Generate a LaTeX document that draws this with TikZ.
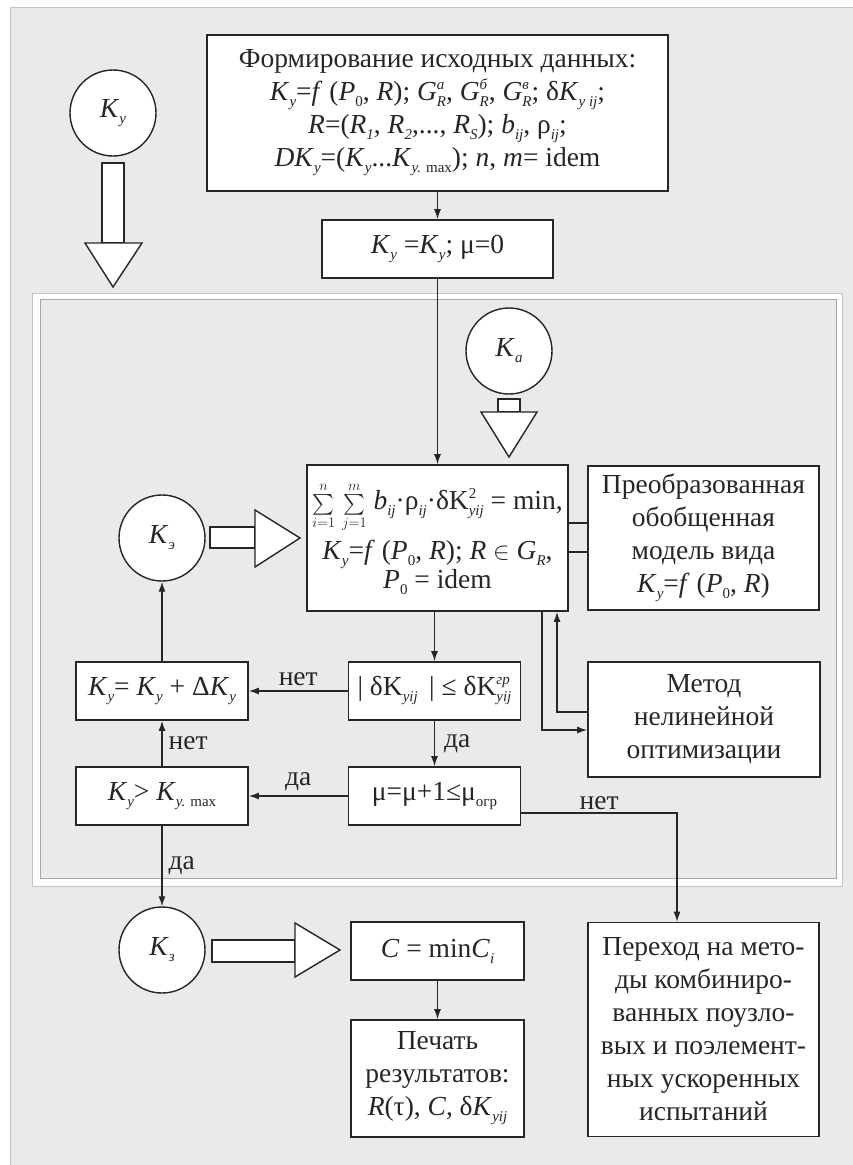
\documentclass[tikz,border=0pt]{standalone}
\usepackage{amsmath}
\usepackage{fontspec}
\setmainfont{Liberation Serif}
\usetikzlibrary{arrows.meta,calc}
\definecolor{bg}{HTML}{E9EBEA}
\definecolor{ink}{HTML}{262626}
\definecolor{frameline}{HTML}{C4C6C5}
\newcommand\I[1]{\textit{#1}}
\newcommand\smallidx[1]{{\fontsize{15}{15}\selectfont #1}}
\newcommand\lo[1]{\raisebox{-6pt}{\smallidx{#1}}}
\newcommand\hl[2]{\rlap{\raisebox{11pt}{\smallidx{#1}}}\raisebox{-6pt}{\smallidx{#2}}}
\tikzset{
  box/.style={draw=ink, line width=1.6pt, fill=white, align=center, inner sep=2pt, text=ink},
  circ/.style={circle, draw=ink, line width=1.4pt, fill=white, minimum size=86pt, inner sep=0pt, text=ink},
  conn/.style={draw=ink, line width=1.3pt, -{Latex[length=10pt,width=7pt]}},
  plain/.style={draw=ink, line width=1.3pt},
  hollow/.style={draw=ink, line width=1.4pt, fill=white, line join=miter},
  lab/.style={text=ink, inner sep=1pt},
}
\begin{document}
\begin{tikzpicture}[x=1pt,y=-1pt,every node/.style={font=\fontsize{27.5}{33}\selectfont}]
\useasboundingbox (0,0) rectangle (853,1165);
% backgrounds
\fill[white] (0,0) rectangle (853,1165);
\fill[bg] (10,7) rectangle (853,1165);
\draw[frameline, line width=0.8pt] (10,1165) -- (10,7) -- (853,7);
\fill[white] (32,293) rectangle (842,886);
\draw[frameline, line width=0.8pt] (32,293) rectangle (842,886);
\fill[bg] (40,299) rectangle (836,878);
\draw[gray!70, line width=1pt] (40,299) rectangle (836,878);

% nodes
\node[box, minimum width=461pt, minimum height=156pt] (top) at (437.5,113)
 {Формирование исходных данных:\\
  \I{K}\lo{\I{у}}=\I{f} (\I{P}\lo{0}, \I{R}); \I{G}\hl{\I{a}}{\I{R}}, \I{G}\hl{\I{б}}{\I{R}}, \I{G}\hl{\I{в}}{\I{R}}; δ\I{K}\lo{\I{у ij}};\\
  \I{R}=(\I{R}\lo{\I{1}}, \I{R}\lo{\I{2}},..., \I{R}\lo{\I{S}}); \I{b}\lo{\I{ij}}, ρ\lo{\I{ij}};\\
  \I{DK}\lo{\I{у}}=(\I{K}\lo{\I{у}}...\I{K}\lo{\I{у.} max}); \I{n}, \I{m}= idem};
\node[box, minimum width=231pt, minimum height=58pt] (init) at (437.5,249)
 {\I{K}\lo{\I{у}} =\I{K}\lo{\I{у}}; μ=0};
\node[box, minimum width=261pt, minimum height=146pt] (main) at (437.5,538)
 {{\fontsize{20}{20}\selectfont$\sum\limits_{i=1}^{n}\,\sum\limits_{j=1}^{m}$} \I{b}\lo{\I{ij}}·ρ\lo{\I{ij}}·δK\hl{2}{\I{уij}} = min,\\[6pt]
  \I{K}\lo{\I{у}}=\I{f} (\I{P}\lo{0}, \I{R}); \I{R} $\in$ \I{G}\lo{\I{R}},\\[-4pt]
  \I{P}\lo{0} = idem};
\node[box, minimum width=231pt, minimum height=144pt] (model) at (703.5,538)
 {Преобразованная\\обобщенная\\модель вида\\\I{K}\lo{\I{у}}=\I{f} (\I{P}\lo{0}, \I{R})};
\node[box, minimum width=172pt, minimum height=58pt] (delta) at (434.5,691)
 {| δK\lo{\I{уij}} \,| ≤ δK\hl{\I{гр}}{\I{уij}}};
\node[box, minimum width=172pt, minimum height=58pt] (inc) at (162,691)
 {\I{K}\lo{\I{у}}= \I{K}\lo{\I{у}} + Δ\I{K}\lo{\I{у}}};
\node[box, minimum width=172pt, minimum height=58pt] (mu) at (434.5,796)
 {μ=μ+1≤μ\lo{огр}};
\node[box, minimum width=172pt, minimum height=58pt] (cmp) at (162,796)
 {\I{K}\lo{\I{у}}> \I{K}\lo{\I{у.} max}};
\node[box, minimum width=232pt, minimum height=115pt] (metod) at (704,719.5)
 {Метод\\нелинейной\\оптимизации};
\node[box, minimum width=173pt, minimum height=58pt] (cmin) at (437.5,951)
 {\I{C} = min\I{C}\lo{\I{i}}};
\node[box, minimum width=173pt, minimum height=117pt] (print) at (437.5,1078.5)
 {Печать\\результатов:\\\I{R}(τ), \I{C}, δ\I{K}\lo{\I{уij}}};
\node[box, minimum width=231pt, minimum height=214pt] (perehod) at (703.5,1029.5)
 {Переход на мето-\\ды комбиниро-\\ванных поузло-\\вых и поэлемент-\\ных ускоренных\\испытаний};

% circles
\node[circ] (ky) at (113,113) {\I{K}\lo{\I{у}}};
\node[circ] (ka) at (509,351) {\I{K}\lo{\I{a}}};
\node[circ] (ke) at (162,538) {\I{K}\lo{\I{э}}};
\node[circ] (kz) at (162,950) {\I{K}\lo{\I{з}}};

% hollow arrows
\draw[hollow] (102,163) rectangle (124,243);
\draw[hollow] (85,243) -- (142,243) -- (113,287) -- cycle;
\draw[hollow] (498,399) rectangle (520,412);
\draw[hollow] (481,412) -- (537,412) -- (509,457) -- cycle;
\draw[hollow] (210,527) rectangle (255,548);
\draw[hollow] (255,510) -- (255,567) -- (300,538) -- cycle;
\draw[hollow] (212,940) rectangle (295,962);
\draw[hollow] (295,923) -- (295,977) -- (340,950) -- cycle;

% connectors
\draw[conn] (top) -- (init);
\draw[conn] (init) -- (main);
\draw[conn] (main.south -| delta.north) -- (delta.north);
\draw[conn] (delta) -- node[lab, above=4pt]{нет} (inc);
\draw[conn] (delta) -- node[lab, right=8pt]{да} (mu);
\draw[conn] (mu) -- node[lab, above=4pt]{да} (cmp);
\draw[conn] (cmp) -- node[lab, right=5pt]{нет} (inc);
\draw[conn] (inc) -- (ke);
\draw[conn] (cmp) -- node[lab, right=5pt]{да} (kz);
\coordinate (c1) at (677,813);
\draw[conn] (mu.east |- c1) -- node[lab, above=2pt]{нет} (c1) -- (c1 |- perehod.north);
\coordinate (m1) at (542,730);
\draw[conn] (main.south -| m1) -- (m1) -- (m1 -| metod.west);
\coordinate (m2) at (557,712);
\draw[conn] (metod.west |- m2) -- (m2) -- (main.south -| m2);
\draw[plain] ($(main.east)+(0,-15)$) -- ($(model.west)+(0,-15)$);
\draw[plain] ($(main.east)+(0,14)$) -- ($(model.west)+(0,14)$);
\draw[conn] (cmin) -- (print);
\end{tikzpicture}
\end{document}
